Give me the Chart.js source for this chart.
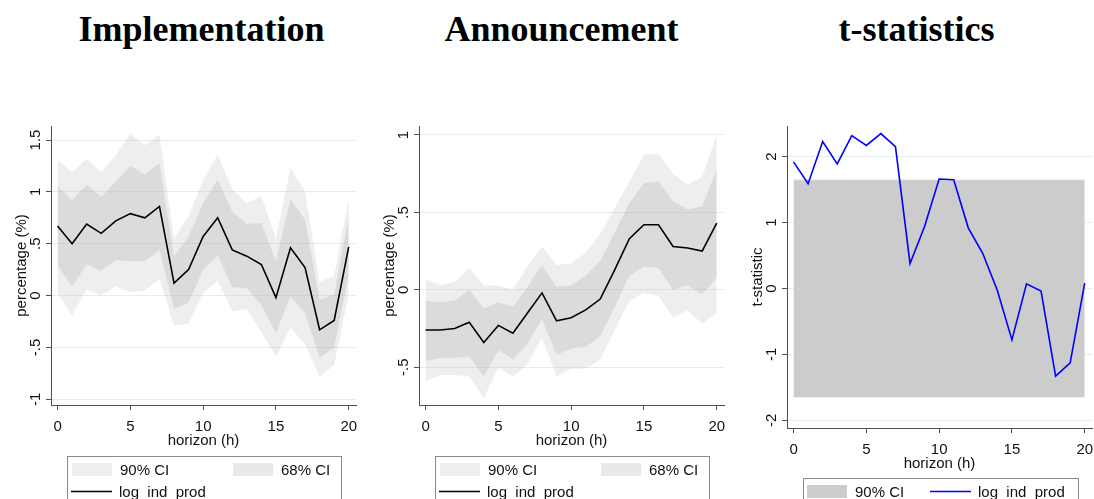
<!DOCTYPE html>
<html>
<head>
<meta charset="utf-8">
<script src="https://cdn.jsdelivr.net/npm/chart.js@4.4.1/dist/chart.umd.min.js"></script>
<style>
  html, body { margin: 0; padding: 0; background: #ffffff; }
  body { position: relative; width: 1094px; height: 499px; overflow: hidden; }
  .panel { position: absolute; top: 0; height: 499px; }
  .ptitle {
    position: absolute; top: 9px; width: 400px; text-align: center;
    font-family: 'Liberation Serif', 'Times New Roman', serif; font-weight: bold;
    font-size: 36px; line-height: 40px; color: #000;
  }
</style>
</head>
<body>
<div class="ptitle" id="t1" style="left:1.5px"></div>
<div class="ptitle" id="t2" style="left:361.5px"></div>
<div class="ptitle" id="t3" style="left:716.5px"></div>
<div class="panel" style="left:0;width:368px"><canvas id="c1" width="368" height="499"></canvas></div>
<div class="panel" style="left:368px;width:368px"><canvas id="c2" width="368" height="499"></canvas></div>
<div class="panel" style="left:736px;width:368px"><canvas id="c3" width="368" height="499"></canvas></div>
<script>
// Impulse responses of log industrial production, horizons 0..20
const horizons = [0, 1, 2, 3, 4, 5, 6, 7, 8, 9, 10, 11, 12, 13, 14, 15, 16, 17, 18, 19, 20];

// Implementation shock
const impIrf  = [0.67, 0.50, 0.69, 0.60, 0.72, 0.79, 0.75, 0.86, 0.12, 0.25, 0.57, 0.75, 0.44, 0.38, 0.30, -0.02, 0.46, 0.27, -0.33, -0.24, 0.47];
const impHi68 = [1.06, 0.92, 1.07, 0.95, 1.10, 1.25, 1.17, 1.28, 0.38, 0.57, 0.89, 1.12, 0.81, 0.69, 0.70, 0.33, 0.93, 0.73, -0.04, 0.01, 0.76];
const impLo68 = [0.29, 0.09, 0.30, 0.24, 0.34, 0.33, 0.33, 0.44, -0.13, -0.07, 0.25, 0.39, 0.08, 0.07, -0.09, -0.36, -0.01, -0.17, -0.60, -0.50, 0.19];
const impHi90 = [1.31, 1.19, 1.32, 1.19, 1.35, 1.56, 1.45, 1.55, 0.55, 0.77, 1.11, 1.36, 1.03, 0.89, 0.96, 0.55, 1.23, 1.00, 0.13, 0.19, 0.93];
const impLo90 = [0.02, -0.19, 0.06, 0.00, 0.09, 0.03, 0.05, 0.16, -0.29, -0.27, 0.03, 0.14, -0.15, -0.13, -0.35, -0.59, -0.31, -0.47, -0.78, -0.67, 0.01];

// Announcement shock
const annIrf  = [-0.26, -0.26, -0.25, -0.21, -0.34, -0.23, -0.28, -0.15, -0.02, -0.20, -0.18, -0.13, -0.06, 0.13, 0.33, 0.42, 0.42, 0.28, 0.27, 0.25, 0.43];
const annHi68 = [-0.07, -0.08, -0.07, 0.00, -0.12, -0.08, -0.11, 0.02, 0.16, 0.02, 0.03, 0.09, 0.19, 0.37, 0.56, 0.69, 0.70, 0.57, 0.52, 0.54, 0.78];
const annLo68 = [-0.46, -0.44, -0.44, -0.43, -0.56, -0.39, -0.45, -0.35, -0.19, -0.42, -0.38, -0.37, -0.30, -0.11, 0.09, 0.15, 0.14, 0.00, 0.03, -0.03, 0.08];
const annHi90 = [0.07, 0.03, 0.05, 0.14, 0.03, 0.03, 0.00, 0.15, 0.28, 0.16, 0.17, 0.24, 0.36, 0.53, 0.70, 0.87, 0.88, 0.75, 0.68, 0.73, 1.00];
const annLo90 = [-0.59, -0.55, -0.55, -0.56, -0.70, -0.50, -0.56, -0.48, -0.31, -0.56, -0.51, -0.51, -0.45, -0.26, -0.07, -0.02, -0.04, -0.18, -0.13, -0.22, -0.15];

// t-statistics and the 90% critical band
const tStat = [1.92, 1.59, 2.23, 1.89, 2.32, 2.17, 2.35, 2.15, 0.38, 0.94, 1.66, 1.65, 0.92, 0.53, -0.03, -0.78, 0.07, -0.04, -1.33, -1.13, 0.08];
const tBandH = [0, 20];
const tBandHi = [1.645, 1.645];
const tBandLo = [-1.645, -1.645];

// Tick values
const xTickVals = [0, 5, 10, 15, 20];
const impYTickVals = [-1, -0.5, 0, 0.5, 1, 1.5];
const annYTickVals = [-0.5, 0, 0.5, 1];
const tYTickVals = [-2, -1, 0, 1, 2];

const panelTitles = ['Implementation', 'Announcement', 't-statistics'];
const seriesName = 'log_ind_prod';

document.getElementById('t1').textContent = panelTitles[0];
document.getElementById('t2').textContent = panelTitles[1];
document.getElementById('t3').textContent = panelTitles[2];

const SANS = "'Liberation Sans', Arial, Helvetica, sans-serif";
const TEXT = '#111111';
const AXIS = '#505050';
const GRID = '#e5eeef';
const BAND90 = 'rgba(190,190,190,0.26)';
const BAND68 = 'rgba(150,150,150,0.21)';
const BANDT = '#cccccc';

Chart.defaults.font.family = SANS;
Chart.defaults.font.size = 15;
Chart.defaults.color = TEXT;

// Stata-style number labels: ".5" instead of "0.5"
function fmt(v) {
  return String(Math.round(v * 1000) / 1000).replace(/^(-?)0\./, '$1.');
}
function pts(xs, ys) {
  return xs.map((x, i) => ({ x: x, y: ys[i] }));
}

function xScale() {
  return {
    type: 'linear', min: -0.45, max: 20.5,
    afterBuildTicks: s => { s.ticks = xTickVals.map(v => ({ value: v })); },
    afterFit: s => { s.height = 46; },
    ticks: { padding: 8, autoSkip: false, maxRotation: 0, minRotation: 0, color: TEXT, callback: v => fmt(v) },
    grid: { drawOnChartArea: false, drawTicks: true, tickLength: 5, tickColor: AXIS },
    border: { display: true, color: AXIS, width: 1 },
    title: { display: true, text: 'horizon (h)', color: TEXT, padding: { top: 0, bottom: 1 } }
  };
}
function yScale(min, max, tickVals, label, pad) {
  return {
    type: 'linear', min: min, max: max,
    afterBuildTicks: s => { s.ticks = tickVals.map(v => ({ value: v })); },
    afterFit: s => { s.width = 51; },
    ticks: { minRotation: 90, maxRotation: 90, crossAlign: 'center', padding: pad, color: TEXT, callback: v => fmt(v) },
    grid: { color: GRID, lineWidth: 1, drawTicks: true, tickLength: 5, tickColor: AXIS },
    border: { display: true, color: AXIS, width: 1 },
    title: { display: true, text: label, color: TEXT, padding: { top: 13, bottom: 0 } }
  };
}

// Legend drawn as a framed key below the plot; y is the text baseline
function boxLegend(frame, items) {
  return {
    id: 'boxLegend',
    afterDraw(chart) {
      const c = chart.ctx;
      c.save();
      c.strokeStyle = '#8a8a8a';
      c.lineWidth = 1;
      c.strokeRect(frame.left + 0.5, frame.top + 0.5, frame.width, 80);
      c.font = '15px ' + SANS;
      c.textBaseline = 'alphabetic';
      c.textAlign = 'left';
      items.forEach(it => {
        const ds = chart.data.datasets[it.ds];
        const mid = it.y - 5.5;
        if (it.kind === 'swatch') {
          c.fillStyle = ds.backgroundColor;
          c.fillRect(it.x, mid - 6.5, 40, 13);
        } else {
          c.strokeStyle = ds.borderColor;
          c.lineWidth = ds.borderWidth;
          c.beginPath();
          c.moveTo(it.x, mid);
          c.lineTo(it.x + 41, mid);
          c.stroke();
        }
        c.fillStyle = TEXT;
        c.fillText(ds.label, it.x + 48, it.y);
      });
      c.restore();
    }
  };
}

function bandDatasets(irf, hi68, lo68, hi90, lo90) {
  const band = (label, data, fill, color) => ({
    label: label, data: pts(horizons, data), fill: fill, backgroundColor: color,
    borderWidth: 0, pointRadius: 0, tension: 0
  });
  return [
    { label: seriesName, data: pts(horizons, irf), borderColor: '#000000', borderWidth: 1.6,
      pointRadius: 0, fill: false, tension: 0 },
    band('68% CI', hi68, '+1', BAND68),
    band('68% CI lower', lo68, false, 'rgba(0,0,0,0)'),
    band('90% CI', hi90, '+1', BAND90),
    band('90% CI lower', lo90, false, 'rgba(0,0,0,0)')
  ];
}

function baseOptions(yMin, yMax, yTicks, yLabel, yPad, padRight, padBottom) {
  return {
    responsive: false, animation: false, devicePixelRatio: 1, events: [],
    layout: { padding: { left: 0, top: 126, right: padRight, bottom: padBottom } },
    plugins: { legend: { display: false }, tooltip: { enabled: false }, title: { display: false } },
    scales: { x: xScale(), y: yScale(yMin, yMax, yTicks, yLabel, yPad) }
  };
}

const ciItems = [
  { kind: 'swatch', ds: 3, x: 72, y: 475 },
  { kind: 'swatch', ds: 1, x: 233, y: 475 },
  { kind: 'line', ds: 0, x: 71, y: 497 }
];

new Chart(document.getElementById('c1'), {
  type: 'line',
  data: { datasets: bandDatasets(impIrf, impHi68, impLo68, impHi90, impLo90) },
  options: baseOptions(-1.055, 1.635, impYTickVals, 'percentage (%)', 0, 12, 48),
  plugins: [boxLegend({ left: 67, top: 456, width: 274 }, ciItems)]
});

new Chart(document.getElementById('c2'), {
  type: 'line',
  data: { datasets: bandDatasets(annIrf, annHi68, annLo68, annHi90, annLo90) },
  options: baseOptions(-0.744, 1.058, annYTickVals, 'percentage (%)', 1, 12, 48),
  plugins: [boxLegend({ left: 67, top: 456, width: 274 }, ciItems)]
});

new Chart(document.getElementById('c3'), {
  type: 'line',
  data: {
    datasets: [
      { label: seriesName, data: pts(horizons, tStat), borderColor: '#0000ff', borderWidth: 1.6,
        pointRadius: 0, fill: false, tension: 0 },
      { label: '90% CI', data: pts(tBandH, tBandHi), fill: '+1', backgroundColor: BANDT,
        borderColor: '#dcdcdc', borderWidth: 1, pointRadius: 0 },
      { label: '90% CI lower', data: pts(tBandH, tBandLo), fill: false,
        borderColor: '#dcdcdc', borderWidth: 1, pointRadius: 0 }
    ]
  },
  options: baseOptions(-2.117, 2.465, tYTickVals, 't-statistic', 3.5, 12, 25),
  plugins: [boxLegend({ left: 67, top: 478, width: 275 }, [
    { kind: 'swatch', ds: 1, x: 71, y: 497 },
    { kind: 'line', ds: 0, x: 194, y: 497 }
  ])]
});
</script>
</body>
</html>
